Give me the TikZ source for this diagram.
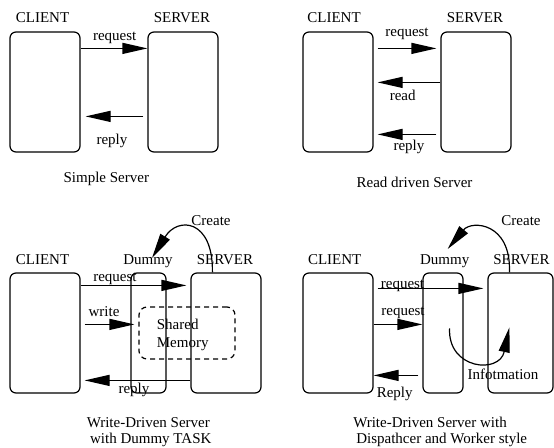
\documentclass[tikz,border=0pt]{standalone}
\usepackage{fontspec}
\setmainfont{Liberation Serif}
\usetikzlibrary{arrows.meta}

\begin{document}
\begin{tikzpicture}[x=1pt, y=-1pt, font=\fontsize{15}{18}\selectfont,
        box/.style={draw, rounded corners=6pt, line width=1.2pt, inner sep=0pt, minimum height=120pt},
        txt/.style={anchor=base, inner sep=0pt},
        msg/.style={line width=1.2pt, -{Triangle[length=25pt, width=11pt]}}]
    \useasboundingbox (0,0) rectangle (554,447);

    % simple server
    \node[box, minimum width=70pt] (c1) at (45, 92) {};
    \node[box, minimum width=70pt] (s1) at (183, 92) {};
    \node[txt] (hc1) at (42.5, 23) {CLIENT};
    \node[txt] (hs1) at (182, 23) {SERVER};
    \draw[msg] ([yshift=-17pt]c1.north east) -- ([yshift=-17pt]s1.north west);
    \draw[msg] ([xshift=-4pt, yshift=-85pt]s1.north west) -- ([xshift=5pt, yshift=-85pt]c1.north east);
    \node[txt] (rq1) at (114.7, 40) {request};
    \node[txt] (rp1) at (112, 144) {reply};
    \node[txt] (cap1) at (106.3, 182) {Simple Server};

    % read driven server
    \node[box, minimum width=70pt] (c2) at (338, 92) {};
    \node[box, minimum width=70pt] (s2) at (476, 92) {};
    \node[txt] (hc2) at (334, 23) {CLIENT};
    \node[txt] (hs2) at (475, 23) {SERVER};
    \draw[msg] ([xshift=4pt, yshift=-17pt]c2.north east) -- ([xshift=-4pt, yshift=-17pt]s2.north west);
    \draw[msg] ([yshift=-51pt]s2.north west) -- ([xshift=4pt, yshift=-51pt]c2.north east);
    \draw[msg] ([xshift=-4pt, yshift=-103pt]s2.north west) -- ([xshift=4pt, yshift=-103pt]c2.north east);
    \node[txt] (rq2) at (407, 36) {request};
    \node[txt] (rd2) at (402.7, 100) {read};
    \node[txt] (rp2) at (409, 150.7) {reply};
    \node[txt] (cap2) at (414.5, 187) {Read driven Server};

    % write driven server, dummy task
    \node[box, minimum width=70pt] (c3) at (45, 333) {};
    \node[box, minimum width=35pt] (d3) at (148.5, 333) {};
    \node[box, minimum width=70pt] (s3) at (226, 333) {};
    \node[draw, dash pattern=on 5pt off 4pt, rounded corners=8pt, line width=1.2pt,
        minimum width=96pt, minimum height=52pt] (mem) at (187, 333) {};
    \node[txt] (hc3) at (42.5, 264) {CLIENT};
    \node[txt] (hd3) at (148, 264) {Dummy};
    \node[txt] (hs3) at (225, 264) {SERVER};
    \node[txt] (cr3) at (211, 225) {Create};
    \draw[msg] ([xshift=22pt]s3.north west) .. controls +(1,-53) and +(26,-42) .. ([xshift=4pt, yshift=-4pt]hd3.north);
    \draw[msg] ([yshift=-13pt]c3.north east) -- ([xshift=-4pt, yshift=-13pt]s3.north west);
    \draw[msg] ([xshift=4pt, yshift=-52pt]c3.north east) -- ([xshift=4pt, yshift=-52pt]d3.north west);
    \draw[msg] ([yshift=-108pt]s3.north west) -- ([xshift=4pt, yshift=-108pt]c3.north east);
    \node[txt] (rq3) at (115, 281) {request};
    \node[txt] (wr3) at (104, 316) {write};
    \node[anchor=north west, inner sep=0pt, align=left] (sm3) at (156.7, 318.7) {Shared\\Memory};
    \node[txt] (rp3) at (134, 393) {reply};
    \node[txt] (cap3a) at (148.3, 427) {Write-Driven Server};
    \node[txt] (cap3b) at (150.8, 443) {with Dummy TASK};

    % dispatcher and worker
    \node[box, minimum width=70pt] (c4) at (338, 333) {};
    \node[box, minimum width=40pt] (d4) at (443, 333) {};
    \node[box, minimum width=65pt] (s4) at (520.5, 333) {};
    \node[txt] (hc4) at (334.7, 264) {CLIENT};
    \node[txt] (hd4) at (444.7, 264) {Dummy};
    \node[txt] (hs4) at (521.5, 264) {SERVER};
    \node[txt] (cr4) at (521, 225) {Create};
    \draw[msg] ([xshift=22pt]s4.north west) .. controls +(2,-50) and +(24,-29) .. ([xshift=3pt, yshift=5pt]hd4.north);
    \draw[msg] ([xshift=4pt, yshift=-16pt]c4.north east) -- ([xshift=-4pt, yshift=-16pt]s4.north west);
    \draw[msg] ([yshift=-52pt]c4.north east) -- ([yshift=-52pt]d4.north west);
    \draw[msg] ([xshift=-4pt, yshift=-103pt]d4.north west) -- ([yshift=-103pt]c4.north east);
    \draw[msg] ([xshift=-14pt, yshift=-56pt]d4.north east) .. controls +(-2,41) and +(-10,47) .. ([xshift=22pt, yshift=-55pt]s4.north west);
    \node[txt] (rq4a) at (402.5, 288) {request};
    \node[txt] (rq4b) at (403, 315) {request};
    \node[txt] (rp4) at (394.7, 397) {Reply};
    \node[txt] (inf4) at (503, 379) {Infotmation};
    \node[txt] (cap4a) at (430, 427) {Write-Driven Server with};
    \node[txt] (cap4b) at (441.7, 443) {Dispathcer and Worker style};
\end{tikzpicture}
\end{document}
